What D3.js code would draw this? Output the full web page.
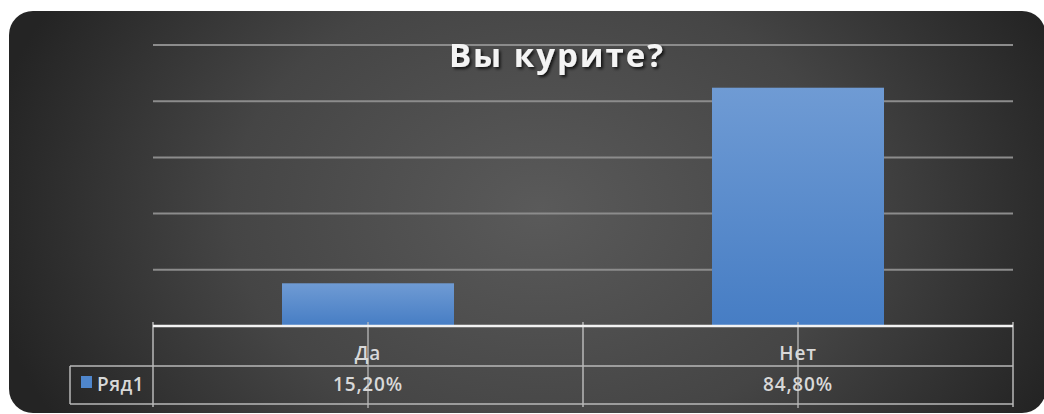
<!DOCTYPE html>
<html>
<head>
<meta charset="utf-8">
<script src="https://cdn.jsdelivr.net/npm/d3@7"></script>
<style>
  html, body { margin: 0; padding: 0; background: #ffffff; }
  svg { display: block; }
</style>
</head>
<body>
<svg id="chart" width="1044" height="414"></svg>
<script>
// Survey data: "Вы курите?"
const categories = ["Да", "Нет"];
const values = [15.2, 84.8];          // percent
const gridTicks = [0, 20, 40, 60, 80, 100];
const seriesName = "Ряд1";
const titleText = "Вы курите?";

const W = 1044, H = 414;
const plot = { left: 153, right: 1013, top: 45, bottom: 326 };
const table = { legendLeft: 70, rowMid: 366, bottom: 404 };

const svg = d3.select("#chart");
const defs = svg.append("defs");

// dark panel with a soft radial light in the middle
const bgGrad = defs.append("radialGradient")
  .attr("id", "bgGrad").attr("gradientUnits", "userSpaceOnUse")
  .attr("cx", 540).attr("cy", 210).attr("r", 560)
  .attr("gradientTransform", "translate(540,210) scale(1,0.75) translate(-540,-210)");
bgGrad.append("stop").attr("offset", "0%").attr("stop-color", "#5a5a5a");
bgGrad.append("stop").attr("offset", "55%").attr("stop-color", "#454545");
bgGrad.append("stop").attr("offset", "100%").attr("stop-color", "#242424");

const barGrad = defs.append("linearGradient")
  .attr("id", "barGrad").attr("x1", 0).attr("y1", 0).attr("x2", 0).attr("y2", 1);
barGrad.append("stop").attr("offset", "0%").attr("stop-color", "#6f9bd4");
barGrad.append("stop").attr("offset", "100%").attr("stop-color", "#467dc4");

const shadow = defs.append("filter").attr("id", "titleShadow")
  .attr("x", "-10%").attr("y", "-30%").attr("width", "120%").attr("height", "160%");
shadow.append("feDropShadow").attr("dx", 2).attr("dy", 2).attr("stdDeviation", 1.6)
  .attr("flood-color", "#000").attr("flood-opacity", 0.75);

svg.append("rect")
  .attr("x", 9).attr("y", 11).attr("width", 1037).attr("height", 402)
  .attr("rx", 24).attr("ry", 24)
  .attr("fill", "url(#bgGrad)");

// scales
const x = d3.scaleBand().domain(categories).range([plot.left, plot.right]).padding(0);
const y = d3.scaleLinear().domain([0, 100]).range([plot.bottom, plot.top]);
const barW = x.bandwidth() * 0.4;

// horizontal gridlines
svg.append("g")
  .selectAll("line")
  .data(gridTicks.filter(t => t > 0))
  .join("line")
  .attr("x1", plot.left).attr("x2", plot.right)
  .attr("y1", d => y(d)).attr("y2", d => y(d))
  .attr("stroke", "#8c8c8c").attr("stroke-width", 2);

// bars
svg.append("g")
  .selectAll("rect")
  .data(values)
  .join("rect")
  .attr("x", (d, i) => x(categories[i]) + (x.bandwidth() - barW) / 2)
  .attr("y", d => y(d))
  .attr("width", barW)
  .attr("height", d => y(0) - y(d))
  .attr("fill", "url(#barGrad)");

// title
svg.append("text")
  .attr("x", 557).attr("y", 67)
  .attr("text-anchor", "middle")
  .attr("font-family", "'Open Sans', sans-serif")
  .attr("font-weight", "bold")
  .attr("font-size", 33)
  .attr("letter-spacing", 2)
  .attr("fill", "#f4f4f4")
  .attr("filter", "url(#titleShadow)")
  .text(titleText);

// data table lines
const tbl = svg.append("g").attr("stroke", "#b8b8b8").attr("stroke-width", 1.5).attr("fill", "none");
tbl.append("line").attr("x1", table.legendLeft).attr("x2", plot.right)
  .attr("y1", table.rowMid).attr("y2", table.rowMid);
tbl.append("line").attr("x1", table.legendLeft).attr("x2", plot.right)
  .attr("y1", table.bottom).attr("y2", table.bottom);
tbl.append("line").attr("x1", table.legendLeft).attr("x2", table.legendLeft)
  .attr("y1", table.rowMid).attr("y2", table.bottom);
// category borders
const borders = [plot.left, ...categories.map(c => x(c) + x.bandwidth())];
tbl.selectAll("line.border").data(borders).join("line").attr("class", "border")
  .attr("x1", d => d).attr("x2", d => d)
  .attr("y1", plot.bottom - 4).attr("y2", table.bottom + 3);

// category tick marks running through the table
svg.append("g").selectAll("line")
  .data(categories)
  .join("line")
  .attr("x1", d => x(d) + x.bandwidth() / 2).attr("x2", d => x(d) + x.bandwidth() / 2)
  .attr("y1", plot.bottom - 4).attr("y2", table.bottom + 4)
  .attr("stroke", "#bdbdbd").attr("stroke-width", 1.5).attr("opacity", 0.85);

// category axis line
svg.append("line")
  .attr("x1", plot.left).attr("x2", plot.right)
  .attr("y1", plot.bottom).attr("y2", plot.bottom)
  .attr("stroke", "#f2f2f2").attr("stroke-width", 2.5);

const textFont = "'Open Sans', sans-serif";
const textSize = 19;
const textSpacing = 0.8;
// category labels
svg.append("g").selectAll("text")
  .data(categories)
  .join("text")
  .attr("x", d => x(d) + x.bandwidth() / 2)
  .attr("y", 360)
  .attr("text-anchor", "middle")
  .attr("font-family", textFont).attr("font-size", textSize)
  .attr("font-weight", 600).attr("letter-spacing", textSpacing)
  .attr("fill", "#d8d8d8")
  .text(d => d);

// value labels
const fmt = v => v.toFixed(2).replace(".", ",") + "%";
svg.append("g").selectAll("text")
  .data(values)
  .join("text")
  .attr("x", (d, i) => x(categories[i]) + x.bandwidth() / 2)
  .attr("y", 391)
  .attr("text-anchor", "middle")
  .attr("font-family", textFont).attr("font-size", textSize)
  .attr("font-weight", 600).attr("letter-spacing", textSpacing)
  .attr("fill", "#d8d8d8")
  .text(fmt);

// legend key inside the table
svg.append("rect")
  .attr("x", 81).attr("y", 376).attr("width", 11).attr("height", 12)
  .attr("fill", "#4f86cc");
svg.append("text")
  .attr("x", 97).attr("y", 391)
  .attr("font-family", textFont).attr("font-size", textSize)
  .attr("font-weight", 600).attr("letter-spacing", 0.5)
  .attr("fill", "#d8d8d8")
  .text(seriesName);
</script>
</body>
</html>
